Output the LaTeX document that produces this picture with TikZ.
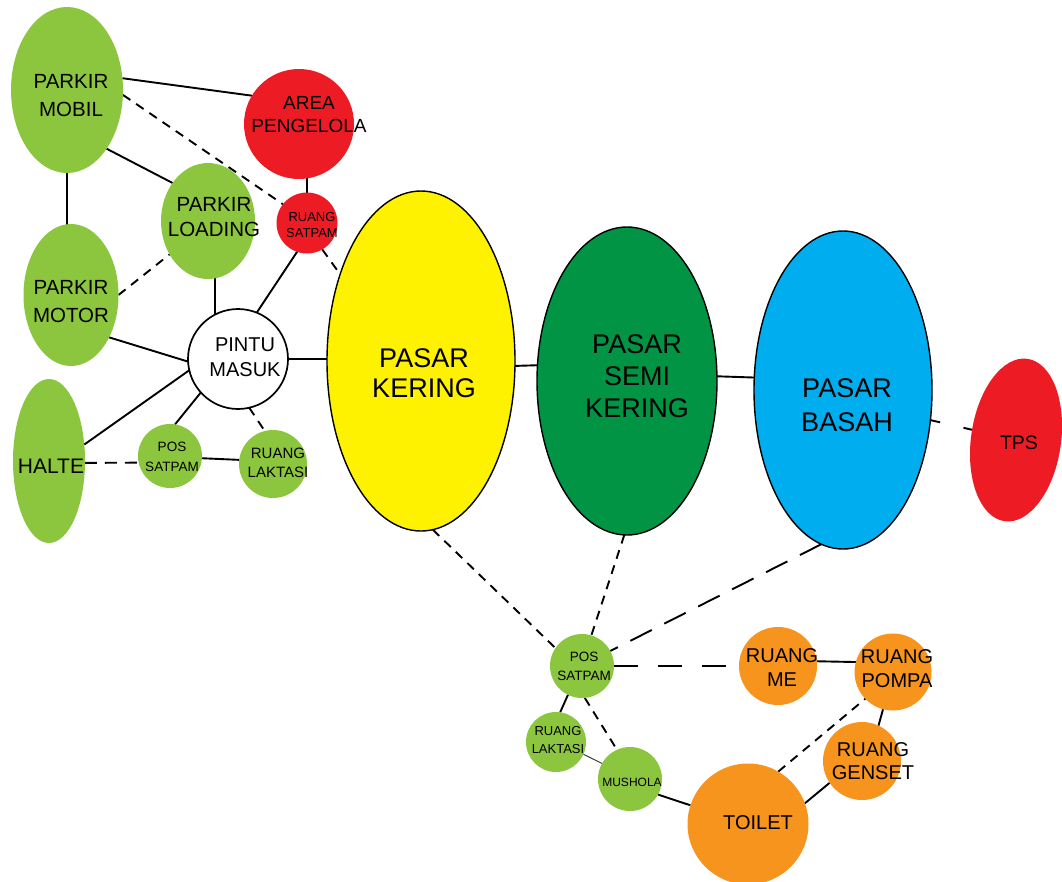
\documentclass[tikz,border=0pt]{standalone}
\usepackage{fontspec}
\setmainfont{Liberation Sans}
\usetikzlibrary{shapes.geometric,backgrounds}
\definecolor{cgreen}{HTML}{8CC63F}
\definecolor{cred}{HTML}{ED1C24}
\definecolor{cyellow}{HTML}{FFF200}
\definecolor{cdgreen}{HTML}{009444}
\definecolor{cblue}{HTML}{00AEEF}
\definecolor{corange}{HTML}{F7941D}
\tikzset{
  blob/.style={ellipse, inner sep=0pt, outer sep=0pt},
  disc/.style={circle, inner sep=0pt, outer sep=0pt},
  lbl/.style={align=center, inner sep=0pt, text=black},
  conn/.style={line width=1.9pt, black},
  dsh/.style={conn, dash pattern=on 9pt off 7pt},
  ldsh/.style={conn, dash pattern=on 24pt off 20pt},
}
\newcommand{\fs}[2]{\fontsize{#1}{#2}\selectfont}
\begin{document}
\begin{tikzpicture}[x=1pt,y=-1pt]
\useasboundingbox (0,0) rectangle (1062,881);
% shapes
\node[blob, fill=cgreen, minimum width=112, minimum height=166] (pm) at (67,90) {};
\node[disc, fill=cred, minimum size=110] (ap) at (299,124) {};
\node[blob, fill=cgreen, minimum width=94, minimum height=116] (pl) at (208,221) {};
\node[disc, fill=cred, minimum size=61] (rs) at (307,223) {};
\node[blob, fill=cgreen, minimum width=95, minimum height=142] (pmo) at (71,295) {};
\node[disc, draw=black, line width=1.7pt, fill=white, minimum size=100] (pim) at (238,359) {};
\node[blob, fill=cgreen, minimum width=72, minimum height=164] (ha) at (49,461) {};
\node[disc, fill=cgreen, minimum size=64] (ps1) at (170,456) {};
\node[disc, fill=cgreen, minimum size=68] (rl1) at (273,464) {};
\node[blob, draw=black, line width=1.4pt, fill=cyellow, minimum width=188, minimum height=340] (pk) at (421,361) {};
\node[blob, draw=black, line width=1.4pt, fill=cdgreen, minimum width=180, minimum height=308] (sk) at (627,381) {};
\node[blob, draw=black, line width=1.4pt, fill=cblue, minimum width=178, minimum height=318] (pb) at (843,390) {};
\node[blob, fill=cred, minimum width=90, minimum height=164, rotate=-8] (tps) at (1016,440) {};
\node[disc, fill=cgreen, minimum size=64] (ps2) at (582,666) {};
\node[disc, fill=cgreen, minimum size=60] (rl2) at (556,742) {};
\node[disc, fill=cgreen, minimum size=64] (mu) at (630,779) {};
\node[disc, fill=corange, minimum size=121] (to) at (748,824) {};
\node[disc, fill=corange, minimum size=78] (me) at (778,666) {};
\node[disc, fill=corange, minimum size=77] (po) at (893,672) {};
\node[disc, fill=corange, minimum size=78] (ge) at (862,761) {};
% labels
\node[lbl, font=\fs{20.5}{28}] (tpm) at (71,96) {PARKIR\\MOBIL};
\node[lbl, font=\fs{19}{23}] (tap) at (309,115) {AREA\\PENGELOLA};
\node[lbl, font=\fs{20.5}{25}] (tpl) at (214,217) {PARKIR\\LOADING};
\node[lbl, font=\fs{13}{16}] (trs) at (312,225) {RUANG\\SATPAM};
\node[lbl, font=\fs{20.5}{28}] (tpmo) at (71,302) {PARKIR\\MOTOR};
\node[lbl, font=\fs{20}{25}] (tpim) at (245,357) {PINTU\\MASUK};
\node[lbl, font=\fs{21}{25}] (tha) at (51,466) {HALTE};
\node[lbl, font=\fs{13.5}{20}] (tps1) at (172,457) {POS\\SATPAM};
\node[lbl, font=\fs{15}{19}] (trl1) at (278,463) {RUANG\\LAKTASI};
\node[lbl, font=\fs{27}{30}] (tpk) at (424,373) {PASAR\\KERING};
\node[lbl, font=\fs{27}{32}] (tsk) at (637,376) {PASAR\\SEMI\\KERING};
\node[lbl, font=\fs{27}{34}] (tpb) at (847,405) {PASAR\\BASAH};
\node[lbl, font=\fs{19.5}{24}] (ttps) at (1019,443) {TPS};
\node[lbl, font=\fs{13.5}{19}] (tps2) at (584,666) {POS\\SATPAM};
\node[lbl, font=\fs{13}{18}] (trl2) at (558,740) {RUANG\\LAKTASI};
\node[lbl, font=\fs{12}{16}] (tmu) at (632,782) {MUSHOLA};
\node[lbl, font=\fs{20}{24}] (tto) at (758,823) {TOILET};
\node[lbl, font=\fs{20}{24}] (tme) at (782,668) {RUANG\\ME};
\node[lbl, font=\fs{20}{24}] (tpo) at (897,669) {RUANG\\POMPA};
\node[lbl, font=\fs{20}{23}] (tge) at (873,761) {RUANG\\GENSET};
% connectors
\begin{pgfonlayer}{background}
\draw[conn] (pm.12) -- (ap.149);
\draw[dsh] (pm.-5) -- (rs.142);
\draw[conn] (pm.-56) -- (pl.133);
\draw[conn] (pm.south) -- (pm.south |- pmo.center);
\draw[conn] (rs.north) -- (rs.north |- ap.center);
\draw[dsh] (pmo.0) -- (pl.-139);
\draw[conn] (pl.-83) -- (pl.-83 |- pim.center);
\draw[conn] (rs.-109) -- (pim.68);
\draw[dsh] (rs.-60) -- (pk.133);
\draw[conn] (pmo.-48) -- (pim.183);
\draw[conn] (ha.25) -- (pim.193);
\draw[conn] (pim.222) -- (ps1.81);
\draw[dsh] (pim.-77) -- (rl1.104);
\draw[conn, dash pattern=on 12pt off 8pt] (ha.-3) -- (ps1.192);
\draw[conn] (ps1.-4) -- (rl1.173);
\draw[conn] (pim.east) -- (pim.east -| pk.center);
\draw[conn] (pk.-3) -- (sk.170);
\draw[conn] (sk.3) -- (pb.172);
\draw[conn, dash pattern=on 10pt off 24pt] (pb.-19) -- (tps.center);
\draw[dsh] (pk.-86) -- (ps2.146);
\draw[dsh] (sk.-91) -- (ps2.73);
\draw[conn, dash pattern=on 24pt off 14pt] (pb.-98) -- (ps2.28);
\draw[ldsh] (ps2.east) -- (me.west);
\draw[conn] (me.7) -- (po.165);
\draw[conn] (ps2.-116) -- (rl2.82);
\draw[dsh] (ps2.-85) -- (mu.114);
\draw[line width=0.9pt, black!80] (rl2.-24) -- (mu.151);
\draw[conn] (mu.-29) -- (to.162);
\draw[dsh] (to.60) -- (po.224);
\draw[conn] (to.20) -- (ge.214);
\draw[conn] (po.255) -- (ge.65);
\end{pgfonlayer}
\end{tikzpicture}
\end{document}
